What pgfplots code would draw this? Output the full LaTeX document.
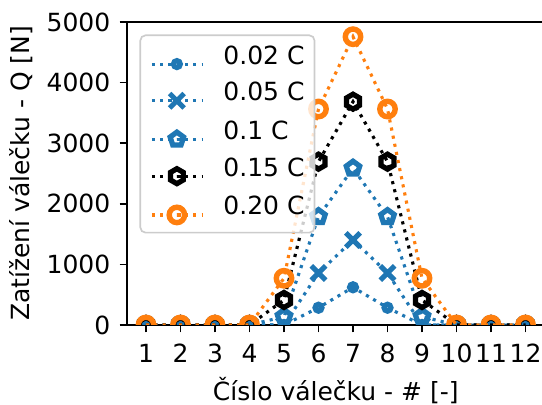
\documentclass[border=0pt]{standalone}
\usepackage{fontspec}
\setmainfont{DejaVu Sans}
\usepackage{pgfplots}
\pgfplotsset{compat=1.18}
\usetikzlibrary{plotmarks}
\definecolor{mblue}{HTML}{1F77B4}
\definecolor{morange}{HTML}{FF7F0E}
\newcommand\fsz{\fontsize{12pt}{14.4pt}\selectfont}
\pgfdeclareplotmark{hexa}{%
  \pgfpathmoveto{\pgfqpointpolar{90}{\pgfplotmarksize}}%
  \pgfpathlineto{\pgfqpointpolar{150}{\pgfplotmarksize}}%
  \pgfpathlineto{\pgfqpointpolar{210}{\pgfplotmarksize}}%
  \pgfpathlineto{\pgfqpointpolar{270}{\pgfplotmarksize}}%
  \pgfpathlineto{\pgfqpointpolar{330}{\pgfplotmarksize}}%
  \pgfpathlineto{\pgfqpointpolar{30}{\pgfplotmarksize}}%
  \pgfpathclose
  \pgfusepathqstroke}
\begin{document}
\begin{tikzpicture}
\begin{axis}[
  name=ax,
  at={(0,0)}, anchor=south west,
  scale only axis,
  width=200.4pt, height=145.44pt,
  xmin=0.45, xmax=12.55,
  ymin=0, ymax=5000,
  xtick={1,2,3,4,5,6,7,8,9,10,11,12},
  ytick={0,1000,2000,3000,4000,5000},
  scaled y ticks=false,
  /pgf/number format/1000 sep={},
  /pgf/number format/assume math mode=true,
  tick align=outside,
  xtick pos=bottom, ytick pos=left,
  major tick length=3.5pt,
  every tick/.style={black, line width=0.8pt},
  axis line style={line width=0.8pt},
  tick label style={font=\fsz},
  xticklabel style={yshift=-2pt},
  yticklabel style={xshift=-1pt},
  label style={font=\fsz},
  xlabel={Číslo válečku - \# [-]},
  ylabel={Zatížení válečku - Q [N]},
  clip marker paths=true,
  every axis plot/.append style={line width=1.5pt, dash pattern=on 1.5pt off 2.475pt},
  legend cell align=left,
  legend image code/.code={\draw[mark repeat=2,mark phase=2] plot coordinates {(0pt,0pt)(12pt,0pt)(24pt,0pt)};},
  legend style={font=\fsz, at={(0,1)}, anchor=north west, xshift=6pt, yshift=-6pt,
    draw=black!20, line width=0.8pt, rounded corners=2.5pt, fill=white, fill opacity=0.8, text opacity=1,
    inner xsep=4.8pt, inner ysep=4.8pt, row sep=6pt, column sep=9.6pt,
    nodes={inner sep=0pt, text height=9pt, text depth=2.6pt, anchor=base west}},
]
\addplot[mblue, mark=o, mark size=1.65pt, mark options={solid, line width=2.5pt}] coordinates {
 (1,0)(2,0)(3,0)(4,0)(5,0)(6,285)(7,622)(8,285)(9,0)(10,0)(11,0)(12,0)};
\addlegendentry{0.02 C}
\addplot[mblue, mark=x, mark size=4.9pt, mark options={solid, line width=2.4pt}] coordinates {
 (1,0)(2,0)(3,0)(4,0)(5,0)(6,858)(7,1403)(8,858)(9,0)(10,0)(11,0)(12,0)};
\addlegendentry{0.05 C}
\addplot[mblue, mark=pentagon, mark size=3.4pt, mark options={solid, line width=2.5pt}] coordinates {
 (1,0)(2,0)(3,0)(4,0)(5,137)(6,1787)(7,2586)(8,1787)(9,137)(10,0)(11,0)(12,0)};
\addlegendentry{0.1 C}
\addplot[black, mark=hexa, mark size=3.6pt, mark options={solid, line width=2.5pt}] coordinates {
 (1,0)(2,0)(3,0)(4,0)(5,413)(6,2695)(7,3685)(8,2695)(9,413)(10,0)(11,0)(12,0)};
\addlegendentry{0.15 C}
\addplot[morange, mark=o, mark size=3.7pt, mark options={solid, line width=2.6pt}] coordinates {
 (1,0)(2,0)(3,0)(4,0)(5,771)(6,3564)(7,4757)(8,3564)(9,771)(10,0)(11,0)(12,0)};
\addlegendentry{0.20 C}
\end{axis}
\pgfresetboundingbox
\useasboundingbox (-60.96pt,-38.4pt) rectangle (199.2pt,156pt);
\end{tikzpicture}
\end{document}
